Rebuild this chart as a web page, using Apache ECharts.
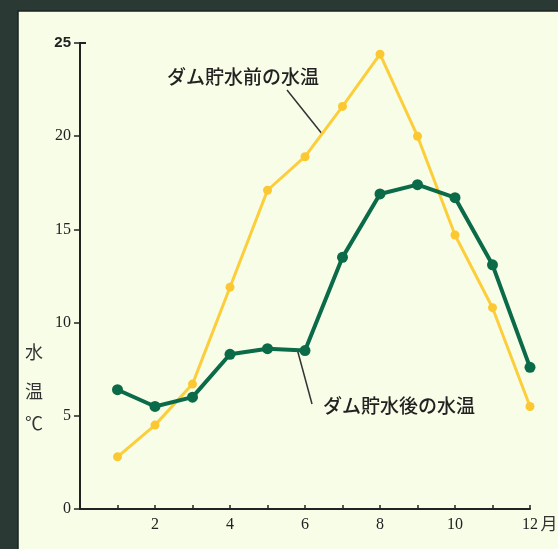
<!DOCTYPE html>
<html>
<head>
<meta charset="utf-8">
<script src="https://cdn.jsdelivr.net/npm/echarts@6/dist/echarts.min.js"></script>
<style>
  html, body { margin: 0; padding: 0; background: #2b3934; }
  #chart { width: 558px; height: 549px; }
</style>
</head>
<body>
<div id="chart"></div>
<script>
const months = [1, 2, 3, 4, 5, 6, 7, 8, 9, 10, 11, 12]
const beforeDam = [2.8, 4.5, 6.7, 11.9, 17.1, 18.9, 21.6, 24.4, 20.0, 14.7, 10.8, 5.5]
const afterDam = [6.4, 5.5, 6.0, 8.3, 8.6, 8.5, 13.5, 16.9, 17.4, 16.7, 13.1, 7.6]
const xTickLabels = ['', '2', '', '4', '', '6', '', '8', '', '10', '', '12']
const beforeLabel = 'ダム貯水前の水温'
const afterLabel = 'ダム貯水後の水温'

const chart = echarts.init(document.getElementById('chart'))

const axisColor = '#222'
const labelFont = '"Liberation Serif", "DejaVu Serif", serif'
const jpFont = '"Noto Sans CJK JP", sans-serif'

const option = {
  backgroundColor: '#2b3934',
  animation: false,
  grid: { left: 80, right: 28, top: 43, bottom: 40 },
  xAxis: {
    type: 'value',
    min: 0,
    max: 12,
    interval: 1,
    axisLine: { lineStyle: { color: axisColor, width: 2 } },
    axisTick: { inside: true, length: 4, lineStyle: { color: axisColor, width: 1.5 } },
    splitLine: { show: false },
    axisLabel: {
      color: '#222',
      fontFamily: labelFont,
      fontSize: 16,
      margin: 8,
      formatter: (v) => (v >= 1 ? xTickLabels[v - 1] : '')
    }
  },
  yAxis: {
    type: 'value',
    min: 0,
    max: 25,
    interval: 5,
    axisLine: { show: true, lineStyle: { color: axisColor, width: 2 } },
    axisTick: { show: true, length: 6, lineStyle: { color: axisColor, width: 1.5 } },
    splitLine: { show: false },
    axisLabel: {
      color: '#222',
      fontFamily: labelFont,
      fontSize: 16,
      margin: 9,
      formatter: (v) => (v === 25 ? '{b|25}' : String(v)),
      rich: { b: { fontFamily: '"Liberation Sans", sans-serif', fontWeight: 'bold', fontSize: 15, color: '#222' } }
    }
  },
  series: [
    {
      name: beforeLabel,
      type: 'line',
      data: months.map((m, i) => [m, beforeDam[i]]),
      lineStyle: { color: '#fcce3c', width: 3 },
      itemStyle: { color: '#fcc832' },
      symbol: 'circle',
      symbolSize: 9,
      z: 2
    },
    {
      name: afterLabel,
      type: 'line',
      data: months.map((m, i) => [m, afterDam[i]]),
      lineStyle: { color: '#0b6a48', width: 4 },
      itemStyle: { color: '#0b6a48' },
      symbol: 'circle',
      symbolSize: 11,
      z: 3
    }
  ]
}

chart.setOption(option)

// panel, labels and pointer lines placed from the axes
const px = (x, y) => chart.convertToPixel({ gridIndex: 0 }, [x, y])
const top25 = px(0, 25)
const beforePt = px(6.5, (beforeDam[5] + beforeDam[6]) / 2)
const afterPt = px(5.8, (afterDam[4] + afterDam[5]) / 2 - 0.05)

chart.setOption({
  graphic: [
    {
      type: 'rect',
      shape: { x: 18, y: 11, width: 545, height: 545 },
      style: { fill: '#f8fde8', stroke: '#1a2420', lineWidth: 1.5 },
      z: -10,
      silent: true
    },
    {
      type: 'line',
      shape: { x1: top25[0], y1: top25[1], x2: top25[0] + 6, y2: top25[1] },
      style: { stroke: axisColor, lineWidth: 2 }
    },
    {
      type: 'text',
      x: 243, y: 77,
      style: { text: beforeLabel, font: '500 19px ' + jpFont, fill: '#222', align: 'center', verticalAlign: 'middle' }
    },
    {
      type: 'line',
      shape: { x1: 287, y1: 90, x2: beforePt[0] - 2, y2: beforePt[1] + 2 },
      style: { stroke: '#333', lineWidth: 1.5 }
    },
    {
      type: 'text',
      x: 399, y: 406,
      style: { text: afterLabel, font: '500 19px ' + jpFont, fill: '#222', align: 'center', verticalAlign: 'middle' }
    },
    {
      type: 'line',
      shape: { x1: afterPt[0], y1: afterPt[1], x2: 312, y2: 404 },
      style: { stroke: '#333', lineWidth: 1.5 }
    },
    {
      type: 'text',
      x: 34, y: 352,
      style: { text: '水', font: '18px ' + jpFont, fill: '#333', align: 'center', verticalAlign: 'middle' }
    },
    {
      type: 'text',
      x: 34, y: 391,
      style: { text: '温', font: '18px ' + jpFont, fill: '#333', align: 'center', verticalAlign: 'middle' }
    },
    {
      type: 'text',
      x: 34, y: 423,
      style: { text: '℃', font: '18px ' + jpFont, fill: '#333', align: 'center', verticalAlign: 'middle' }
    },
    {
      type: 'text',
      x: 549, y: 524,
      style: { text: '月', font: '17px ' + jpFont, fill: '#333', align: 'center', verticalAlign: 'middle' }
    }
  ]
})
</script>
</body>
</html>
